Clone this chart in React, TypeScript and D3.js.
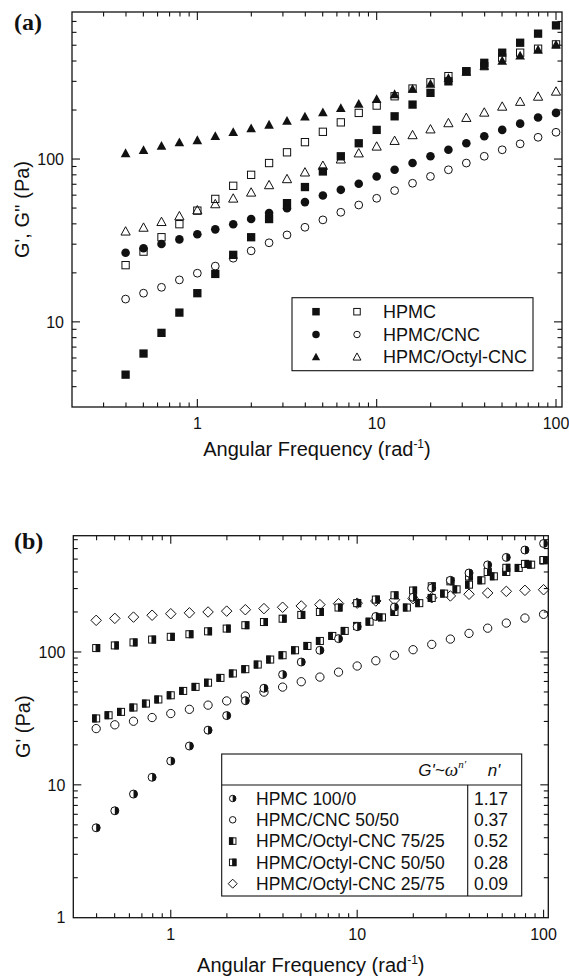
import React from 'react';
import * as d3 from 'd3';

// ---------- data ----------
const FREQ = [0.398, 0.501, 0.631, 0.794, 1, 1.259, 1.585, 1.995, 2.512, 3.162, 3.981, 5.012, 6.31, 7.943, 10, 12.59, 15.85, 19.95, 25.12, 31.62, 39.81, 50.12, 63.1, 79.43, 100];
const FREQ_FINE = [0.398, 0.464, 0.541, 0.631, 0.736, 0.858, 1, 1.166, 1.359, 1.585, 1.848, 2.154, 2.512, 2.929, 3.415, 3.981, 4.642, 5.412, 6.31, 7.356, 8.577, 10, 11.66, 13.59, 15.85, 18.48, 21.54, 25.12, 29.29, 34.15, 39.81, 46.42, 54.12, 63.1, 73.56, 85.77, 100];

// panel (a)
const A_HPMC_G1 = [4.74, 6.39, 8.56, 11.4, 15.0, 19.7, 25.8, 33.1, 42.8, 53.6, 67.3, 83.9, 104, 125, 151, 183, 216, 255, 300, 346, 390, 450, 518, 589, 662];
const A_HPMC_G2 = [22.3, 27.0, 33.1, 39.8, 48.2, 56.9, 68.5, 80, 94.5, 110, 127, 147, 168, 192, 213, 243, 271, 296, 323, 346, 372, 419, 450, 476, 506];
const A_CNC_G1 = [26.6, 28.3, 30.1, 32.1, 34.5, 37.0, 39.8, 42.8, 46.6, 49.9, 54.4, 59.7, 64.7, 70.5, 78.2, 85.9, 94.5, 104, 114, 125, 138, 151, 165, 180, 192];
const A_CNC_G2 = [13.8, 15.0, 16.3, 18.1, 19.9, 22.0, 24.6, 27.3, 30.6, 34.2, 38.1, 42.3, 47.1, 52.2, 57.4, 64.0, 71.0, 78.2, 85.9, 94.5, 104, 114, 124, 136, 146];
const A_OCT_G1 = [109, 114, 121, 127, 131, 139, 147, 155, 163, 172, 183, 194, 206, 219, 234, 251, 271, 291, 315, 344, 375, 403, 433, 471, 506];
const A_OCT_G2 = [36.1, 38.1, 41.3, 44.8, 48.7, 53.1, 57.5, 62.6, 69.5, 75.7, 83.2, 91.4, 100, 109, 120, 130, 141, 153, 167, 180, 194, 211, 226, 243, 261];
const LEGEND_A = ['HPMC', 'HPMC/CNC', 'HPMC/Octyl-CNC'];

// panel (b)
const B_HPMC = [4.75, 6.38, 8.52, 11.4, 15.1, 19.6, 25.8, 33.2, 43.0, 53.3, 67.6, 84.0, 103, 126, 155, 185, 218, 258, 303, 346, 393, 452, 515, 585, 655];
const B_CNC = [26.5, 28.3, 30.1, 32.1, 34.4, 37.0, 39.8, 42.8, 46.6, 49.9, 54.4, 59.7, 64.7, 70.5, 78.4, 85.9, 94.5, 104, 114, 125, 138, 151, 165, 180, 192];
const B_OCT7525 = [31.6, 33.4, 35.4, 38.2, 40.9, 43.9, 47.2, 50.9, 54.6, 58.7, 63.8, 68.9, 74.2, 80.4, 87.7, 94.5, 103, 111, 121, 132, 144, 157, 169, 182, 200, 216, 233, 255, 275, 296, 321, 346, 371, 400, 429, 454, 489];
const B_OCT5050 = [107, 112, 118, 124, 130, 136, 143, 150, 159, 168, 178, 190, 200, 216, 233, 248, 267, 290, 312, 340, 370, 400, 430, 460, 492];
const B_OCT2575 = [173, 179, 183, 189, 194, 197, 200, 203, 208, 212, 217, 222, 227, 231, 233, 242, 247, 252, 256, 264, 272, 278, 286, 291, 294];
const LEGEND_B = ['HPMC 100/0', 'HPMC/CNC 50/50', 'HPMC/Octyl-CNC 75/25', 'HPMC/Octyl-CNC 50/50', 'HPMC/Octyl-CNC 25/75'];
const N_VALUES = ['1.17', '0.37', '0.52', '0.28', '0.09'];

const X_TICKS_A = [1, 10, 100];
const Y_TICKS_A = [10, 100];
const X_TICKS_B = [1, 10, 100];
const Y_TICKS_B = [1, 10, 100];

// ---------- styling ----------
const INK = '#111';
const SANS = "'Liberation Sans', Arial, Helvetica, sans-serif";
const SERIF = "'Liberation Serif', 'Times New Roman', serif";

type Kind = 'sqF' | 'sqO' | 'ciF' | 'ciO' | 'trF' | 'trO' | 'ciHalf' | 'sqHalfL' | 'sqHalfR' | 'dmO';

function Marker({ kind, x, y, s }: { kind: Kind; x: number; y: number; s: number }) {
  const h = s / 2;
  switch (kind) {
    case 'sqF':
      return <rect x={x - h} y={y - h} width={s} height={s} fill={INK} />;
    case 'sqO':
      return <rect x={x - h + 0.5} y={y - h + 0.5} width={s - 1} height={s - 1} fill="none" stroke={INK} strokeWidth={1} />;
    case 'ciF':
      return <circle cx={x} cy={y} r={h} fill={INK} />;
    case 'ciO':
      return <circle cx={x} cy={y} r={h - 0.5} fill="none" stroke={INK} strokeWidth={1} />;
    case 'trF': {
      const pts = `${x},${y - h * 1.05} ${x - h * 1.1},${y + h * 0.95} ${x + h * 1.1},${y + h * 0.95}`;
      return <polygon points={pts} fill={INK} />;
    }
    case 'trO': {
      const pts = `${x},${y - h * 1.0} ${x - h * 1.05},${y + h * 0.9} ${x + h * 1.05},${y + h * 0.9}`;
      return <polygon points={pts} fill="none" stroke={INK} strokeWidth={1} strokeLinejoin="miter" />;
    }
    case 'ciHalf': {
      const r = h - 0.5;
      return (
        <g>
          <circle cx={x} cy={y} r={r} fill="#fff" stroke={INK} strokeWidth={1} />
          <path d={`M${x},${y - r} A${r},${r} 0 0 1 ${x},${y + r} Z`} fill={INK} />
        </g>
      );
    }
    case 'sqHalfL':
      return (
        <g>
          <rect x={x - h + 0.5} y={y - h + 0.5} width={s - 1} height={s - 1} fill="#fff" stroke={INK} strokeWidth={1} />
          <rect x={x - h} y={y - h} width={s * 0.58} height={s} fill={INK} />
        </g>
      );
    case 'sqHalfR':
      return (
        <g>
          <rect x={x - h + 0.5} y={y - h + 0.5} width={s - 1} height={s - 1} fill="#fff" stroke={INK} strokeWidth={1} />
          <rect x={x + h - s * 0.58} y={y - h} width={s * 0.58} height={s} fill={INK} />
        </g>
      );
    case 'dmO': {
      const pts = `${x},${y - h} ${x + h},${y} ${x},${y + h} ${x - h},${y}`;
      return <polygon points={pts} fill="none" stroke={INK} strokeWidth={1} />;
    }
  }
  return null;
}

function logTickValues(lo: number, hi: number) {
  const out: { v: number; major: boolean }[] = [];
  for (let d = Math.floor(Math.log10(lo)); d <= Math.ceil(Math.log10(hi)); d++) {
    for (let m = 1; m <= 9; m++) {
      const v = m * Math.pow(10, d);
      if (v > lo * 1.001 && v < hi * 0.999) out.push({ v, major: m === 1 });
    }
  }
  return out;
}

type Scale = d3.ScaleLogarithmic<number, number>;

function Frame({ x, y, xLabels, yLabels, tickFont }: { x: Scale; y: Scale; xLabels: number[]; yLabels: number[]; tickFont: number }) {
  const [l, r] = x.range();
  const [b, t] = y.range();
  const xd = x.domain();
  const yd = y.domain();
  const xt = logTickValues(xd[0], xd[1]);
  const yt = logTickValues(yd[0], yd[1]);
  const MAJ = 8, MIN = 4.5;
  return (
    <g>
      <rect x={l} y={t} width={r - l} height={b - t} fill="none" stroke={INK} strokeWidth={1.3} />
      {xt.map((tk, i) => {
        const px = x(tk.v);
        const len = tk.major ? MAJ : MIN;
        return (
          <g key={'x' + i}>
            <line x1={px} x2={px} y1={b} y2={b - len} stroke={INK} strokeWidth={1.1} />
            <line x1={px} x2={px} y1={t} y2={t + len} stroke={INK} strokeWidth={1.1} />
          </g>
        );
      })}
      {yt.map((tk, i) => {
        const py = y(tk.v);
        const len = tk.major ? MAJ : MIN;
        return (
          <g key={'y' + i}>
            <line x1={l} x2={l + len} y1={py} y2={py} stroke={INK} strokeWidth={1.1} />
            <line x1={r} x2={r - len} y1={py} y2={py} stroke={INK} strokeWidth={1.1} />
          </g>
        );
      })}
      {xLabels.map((v) => (
        <text key={'xl' + v} x={x(v)} y={b + 22} textAnchor="middle" fontFamily={SANS} fontSize={tickFont} fill={INK}>
          {v}
        </text>
      ))}
      {yLabels.map((v) => (
        <text key={'yl' + v} x={l - 8} y={y(v)} dy="0.36em" textAnchor="end" fontFamily={SANS} fontSize={tickFont} fill={INK}>
          {v}
        </text>
      ))}
    </g>
  );
}

function Series({ xs, ys, x, y, kind, s }: { xs: number[]; ys: number[]; x: Scale; y: Scale; kind: Kind; s: number }) {
  return (
    <g>
      {ys.map((v, i) => (
        <Marker key={i} kind={kind} x={x(xs[i])} y={y(v)} s={s} />
      ))}
    </g>
  );
}

function XTitle({ cx, y }: { cx: number; y: number }) {
  return (
    <text x={cx} y={y} textAnchor="middle" fontFamily={SANS} fontSize={20} fill={INK}>
      Angular Frequency (rad
      <tspan dy={-8} fontSize={12}>-1</tspan>
      <tspan dy={8}>)</tspan>
    </text>
  );
}

export default function App() {
  const ax = d3.scaleLog().domain([0.2, 108]).range([72, 562]);
  const ay = d3.scaleLog().domain([3, 800]).range([407, 12]);
  const bx = d3.scaleLog().domain([0.3, 106]).range([73.3, 548.3]);
  const by = d3.scaleLog().domain([1, 750]).range([917.7, 535.7]);

  const legA: [Kind, Kind][] = [['sqF', 'sqO'], ['ciF', 'ciO'], ['trF', 'trO']];
  const legB: Kind[] = ['ciHalf', 'ciO', 'sqHalfL', 'sqHalfR', 'dmO'];
  const legARows = [311.7, 334.5, 356.7];
  const legBRows = [798.5, 819.8, 841.1, 862.4, 883.7];

  return (
    <svg width={569} height={977} style={{ position: 'absolute', left: 0, top: 0, background: '#fff' }}>
      <rect x={0} y={0} width={569} height={977} fill="#fff" />

      {/* ---------- panel (a) ---------- */}
      <text x={14} y={30} fontFamily={SERIF} fontWeight="bold" fontSize={24} fill={INK}>(a)</text>
      <Frame x={ax} y={ay} xLabels={X_TICKS_A} yLabels={Y_TICKS_A} tickFont={16} />
      <Series xs={FREQ} ys={A_HPMC_G1} x={ax} y={ay} kind="sqF" s={8.3} />
      <Series xs={FREQ} ys={A_CNC_G1} x={ax} y={ay} kind="ciF" s={8.6} />
      <Series xs={FREQ} ys={A_OCT_G1} x={ax} y={ay} kind="trF" s={8.8} />
      <Series xs={FREQ} ys={A_HPMC_G2} x={ax} y={ay} kind="sqO" s={8.3} />
      <Series xs={FREQ} ys={A_CNC_G2} x={ax} y={ay} kind="ciO" s={8.8} />
      <Series xs={FREQ} ys={A_OCT_G2} x={ax} y={ay} kind="trO" s={8.8} />

      <rect x={292} y={297.7} width={241} height={73} fill="#fff" stroke={INK} strokeWidth={1.1} />
      {LEGEND_A.map((name, i) => (
        <g key={name}>
          <Marker kind={legA[i][0]} x={316} y={legARows[i]} s={7.5} />
          <Marker kind={legA[i][1]} x={357} y={legARows[i]} s={7.5} />
          <text x={383} y={legARows[i] + 6.5} fontFamily={SANS} fontSize={18} fill={INK}>{name}</text>
        </g>
      ))}

      <XTitle cx={(72 + 562) / 2} y={456} />
      <text transform={`translate(29,${(12 + 407) / 2}) rotate(-90)`} textAnchor="middle" fontFamily={SANS} fontSize={20} fill={INK}>
        G', G'' (Pa)
      </text>

      {/* ---------- panel (b) ---------- */}
      <text x={14} y={549} fontFamily={SERIF} fontWeight="bold" fontSize={24} fill={INK}>(b)</text>
      <Frame x={bx} y={by} xLabels={X_TICKS_B} yLabels={Y_TICKS_B} tickFont={16} />
      <Series xs={FREQ} ys={B_OCT2575} x={bx} y={by} kind="dmO" s={10.5} />
      <Series xs={FREQ} ys={B_CNC} x={bx} y={by} kind="ciO" s={9.3} />
      <Series xs={FREQ_FINE} ys={B_OCT7525} x={bx} y={by} kind="sqHalfL" s={8} />
      <Series xs={FREQ} ys={B_OCT5050} x={bx} y={by} kind="sqHalfR" s={8} />
      <Series xs={FREQ} ys={B_HPMC} x={bx} y={by} kind="ciHalf" s={9} />

      <rect x={221.7} y={754} width={300} height={142} fill="#fff" stroke={INK} strokeWidth={1.1} />
      <line x1={221.7} x2={521.7} y1={785} y2={785} stroke={INK} strokeWidth={1.1} />
      <line x1={467.7} x2={467.7} y1={785} y2={896} stroke={INK} strokeWidth={1.1} />
      <text x={466} y={776} textAnchor="end" fill={INK}>
        <tspan fontFamily={SANS} fontStyle="italic" fontSize={17}>G'~</tspan>
        <tspan fontFamily={SERIF} fontStyle="italic" fontSize={19}>ω</tspan>
        <tspan fontFamily={SERIF} fontStyle="italic" fontSize={11} dy={-8}>n'</tspan>
      </text>
      <text x={494} y={776} textAnchor="middle" fontFamily={SANS} fontStyle="italic" fontSize={17} fill={INK}>n'</text>
      {LEGEND_B.map((name, i) => (
        <g key={name}>
          <Marker kind={legB[i]} x={232.7} y={legBRows[i]} s={legB[i] === 'dmO' ? 9 : 7.5} />
          <text x={256} y={legBRows[i] + 6.3} fontFamily={SANS} fontSize={17.5} fill={INK}>{name}</text>
          <text x={491} y={legBRows[i] + 6.3} textAnchor="middle" fontFamily={SANS} fontSize={17.5} fill={INK}>{N_VALUES[i]}</text>
        </g>
      ))}

      <XTitle cx={(73.3 + 548.3) / 2} y={972} />
      <text transform={`translate(30,${(535.7 + 917.7) / 2}) rotate(-90)`} textAnchor="middle" fontFamily={SANS} fontSize={20} fill={INK}>
        G' (Pa)
      </text>
    </svg>
  );
}
